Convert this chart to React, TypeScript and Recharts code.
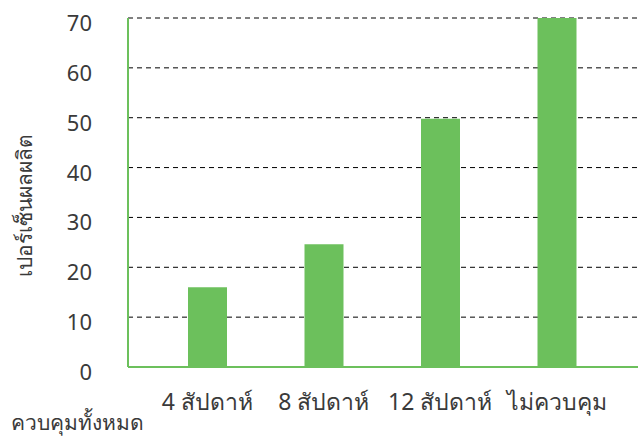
import React from 'react';
import { BarChart, Bar, XAxis, YAxis, CartesianGrid } from 'recharts';

const categories = ['ควบคุมทั้งหมด', '4 สัปดาห์', '8 สัปดาห์', '12 สัปดาห์', 'ไม่ควบคุม'];
const yieldPercent = [0, 16, 24.6, 49.8, 70];
const yTicks = [0, 10, 20, 30, 40, 50, 60, 70];

const data = categories.map((name, i) => ({ name, value: yieldPercent[i] }));

const FONT = '"Noto Sans", "DejaVu Sans", sans-serif';
const GREEN = '#6cc05c';
const TEXT = '#3a3a3a';

const XTick = (props: any) => {
  const { x, y, payload } = props;
  // first label sits on a second row, like the original
  const first = payload.index === 0;
  return (
    <text
      x={first ? x - 13 : x}
      y={y + (first ? 55 : 35)}
      textAnchor="middle"
      fontSize={first ? 21 : 23}
      fill={TEXT}
      fontFamily={FONT}
    >
      {payload.value}
    </text>
  );
};

const YTick = (props: any) => {
  const { x, y, payload } = props;
  return (
    <text x={x} y={y + 13} textAnchor="end" fontSize={22} fill={TEXT} fontFamily={FONT}>
      {payload.value}
    </text>
  );
};

const YLabel = () => (
  <text
    x={32}
    y={205}
    transform="rotate(-90 32 205)"
    textAnchor="middle"
    fontSize={21}
    fill={TEXT}
    fontFamily={FONT}
  >
    เปอร์เซ็นผลผลิต
  </text>
);

export default function App() {
  return (
    <div style={{ position: 'absolute', left: 0, top: 0, width: 644, height: 436, background: '#fff' }}>
      <BarChart
        width={644}
        height={436}
        data={data}
        margin={{ top: 18, right: 6, bottom: 0, left: 0 }}
        barSize={39}
      >
        <CartesianGrid vertical={false} stroke="#000" strokeDasharray="5 4" />
        <XAxis
          dataKey="name"
          height={69}
          padding={{ left: -95.5, right: 23 }}
          interval={0}
          tickLine={false}
          axisLine={{ stroke: GREEN, strokeWidth: 2 }}
          tick={<XTick />}
        />
        <YAxis
          width={128}
          domain={[0, 70]}
          ticks={yTicks}
          interval={0}
          tickLine={false}
          tickMargin={30}
          axisLine={{ stroke: GREEN, strokeWidth: 2 }}
          tick={<YTick />}
          label={<YLabel />}
        />
        <Bar dataKey="value" fill={GREEN} isAnimationActive={false} />
      </BarChart>
    </div>
  );
}
